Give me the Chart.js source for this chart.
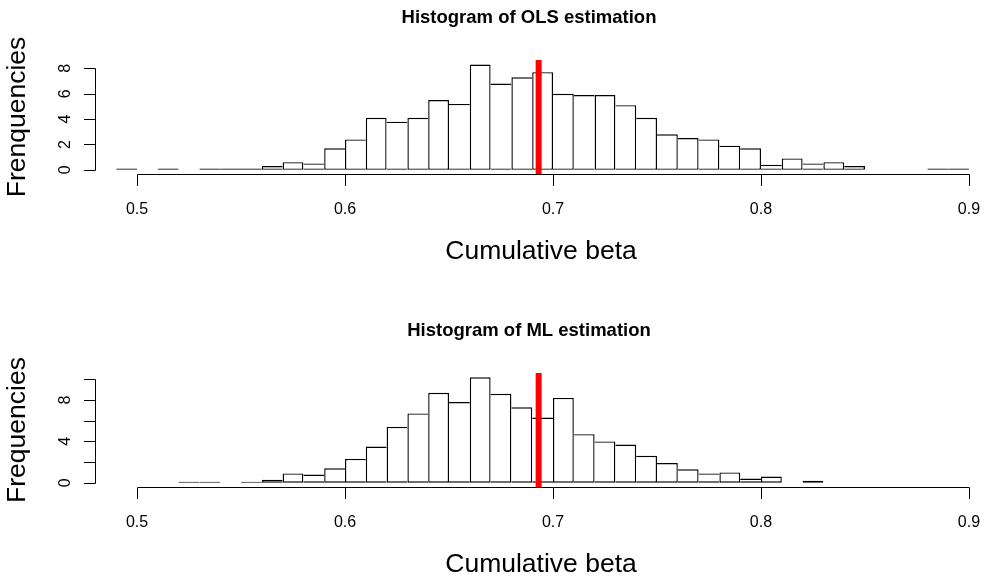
<!DOCTYPE html>
<html>
<head>
<meta charset="utf-8">
<script src="https://cdn.jsdelivr.net/npm/chart.js@4"></script>
<style>
html,body{margin:0;padding:0;background:#fff;overflow:hidden;width:989px;height:576px}
canvas{position:absolute;left:0}
#c1{top:0}
#c2{top:288px}
</style>
</head>
<body>
<canvas id="c1" width="989" height="288"></canvas>
<canvas id="c2" width="989" height="288"></canvas>
<script>
// ---- data ----
const olsBinStarts = [0.49,0.50,0.51,0.52,0.53,0.54,0.55,0.56,0.57,0.58,0.59,0.60,0.61,0.62,0.63,0.64,0.65,0.66,0.67,0.68,0.69,0.70,0.71,0.72,0.73,0.74,0.75,0.76,0.77,0.78,0.79,0.80,0.81,0.82,0.83,0.84,0.85,0.86,0.87,0.88,0.89];
const olsDensity   = [0.1,0,0.1,0,0.1,0.1,0.1,0.3,0.6,0.5,1.7,2.4,4.1,3.8,4.1,5.5,5.2,8.3,6.8,7.3,7.7,6.0,5.9,5.9,5.1,4.1,2.8,2.5,2.4,1.9,1.7,0.4,0.9,0.5,0.6,0.3,0,0,0,0.1,0.1];
const mlBinStarts  = [0.52,0.53,0.54,0.55,0.56,0.57,0.58,0.59,0.60,0.61,0.62,0.63,0.64,0.65,0.66,0.67,0.68,0.69,0.70,0.71,0.72,0.73,0.74,0.75,0.76,0.77,0.78,0.79,0.80,0.81,0.82];
const mlDensity    = [0.1,0.1,0,0.1,0.3,0.9,0.8,1.4,2.3,3.5,5.4,6.7,8.7,7.8,10.2,8.6,7.3,6.3,8.2,4.7,4.0,3.7,2.6,1.9,1.3,0.9,1.0,0.4,0.6,0,0.2];
const binWidth = 0.01;
const refValue = 0.6931;
const xTicks = [0.5,0.6,0.7,0.8,0.9];
const xTickLabels = ['0.5','0.6','0.7','0.8','0.9'];
const olsYTicks = [0,2,4,6,8];
const olsYTickLabels = ['0','2','4','6','8'];
const mlYTicks = [0,2,4,6,8,10];
const mlYTickLabels = ['0','','4','','8',''];
const olsTitle = 'Histogram of OLS estimation';
const mlTitle = 'Histogram of ML estimation';
const xTitle = 'Cumulative beta';
const olsYTitle = 'Frenquencies';
const mlYTitle = 'Frequencies';

const FONT = '"Liberation Sans", Arial, Helvetica, sans-serif';
const EDGE = 1.4;

const rAxes = {
  id: 'rAxes',
  afterDraw(chart, args, o) {
    const ctx = chart.ctx, a = chart.chartArea, xs = chart.scales.x, ys = chart.scales.y;
    ctx.save();
    ctx.strokeStyle = '#000';
    ctx.fillStyle = '#000';
    ctx.lineWidth = 1;
    // x axis
    const yb = Math.round(a.bottom) + 0.5;
    ctx.beginPath();
    ctx.moveTo(Math.round(xs.getPixelForValue(xTicks[0])) + 0.5, yb);
    ctx.lineTo(Math.round(xs.getPixelForValue(xTicks[xTicks.length - 1])) + 0.5, yb);
    xTicks.forEach(v => {
      const p = Math.round(xs.getPixelForValue(v)) + 0.5;
      ctx.moveTo(p, yb); ctx.lineTo(p, yb + 11.5);
    });
    // y axis
    const xl = Math.round(a.left) + 0.5;
    const yt = o.yTicks;
    ctx.moveTo(xl, Math.round(ys.getPixelForValue(yt[0])) + 0.5);
    ctx.lineTo(xl, Math.round(ys.getPixelForValue(yt[yt.length - 1])) + 0.5);
    yt.forEach(v => {
      const p = Math.round(ys.getPixelForValue(v)) + 0.5;
      ctx.moveTo(xl, p); ctx.lineTo(xl - 11.5, p);
    });
    ctx.stroke();
    // x tick labels
    ctx.font = '16px ' + FONT;
    ctx.textAlign = 'center';
    ctx.textBaseline = 'alphabetic';
    xTicks.forEach((v, i) => {
      ctx.fillText(xTickLabels[i], xs.getPixelForValue(v), a.bottom + 39.5);
    });
    // y tick labels (rotated)
    yt.forEach((v, i) => {
      if (!o.yTickLabels[i]) return;
      ctx.save();
      ctx.translate(a.left - 25, ys.getPixelForValue(v));
      ctx.rotate(-Math.PI / 2);
      ctx.fillText(o.yTickLabels[i], 0, 0);
      ctx.restore();
    });
    // axis titles
    ctx.font = '26.5px ' + FONT;
    ctx.fillText(xTitle, 541, a.bottom + 84.5);
    ctx.save();
    ctx.translate(25, (a.top + a.bottom) / 2);
    ctx.rotate(-Math.PI / 2);
    ctx.fillText(o.yTitle, 0, 0);
    ctx.restore();
    // main title
    ctx.font = 'bold 18.5px ' + FONT;
    ctx.fillText(o.title, 529, a.top - 37);
    ctx.restore();
  }
};

function makeChart(id, binStarts, density, yMin, yMax, yTicks, yTickLabels, title, yTitle, padding) {
  const bars = binStarts.map((s, i) => ({ x: s + binWidth / 2, y: density[i] }));
  // shared bin edges are drawn once, by the taller neighbour
  const edgeWidths = (c) => {
    const i = c.dataIndex;
    const cur = density[i];
    const prev = i > 0 ? density[i - 1] : 0;
    const next = i < density.length - 1 ? density[i + 1] : 0;
    return { top: EDGE, bottom: EDGE, left: prev <= cur ? EDGE : 0, right: next < cur ? EDGE : 0 };
  };
  return new Chart(document.getElementById(id), {
    type: 'bar',
    data: {
      datasets: [
        {
          type: 'line',
          order: 0,
          data: [{ x: refValue, y: yMin }, { x: refValue, y: yMax }],
          borderColor: '#ff0000',
          borderWidth: 6,
          borderCapStyle: 'butt',
          pointRadius: 0,
          fill: false
        },
        {
          type: 'bar',
          order: 1,
          data: bars,
          backgroundColor: '#ffffff',
          borderColor: '#000000',
          borderWidth: edgeWidths,
          borderSkipped: false,
          inflateAmount: 0,
          barPercentage: 1,
          categoryPercentage: 1
        }
      ]
    },
    options: {
      responsive: false,
      animation: false,
      devicePixelRatio: 1,
      layout: { padding: padding },
      plugins: {
        legend: { display: false },
        tooltip: { enabled: false },
        rAxes: { yTicks, yTickLabels, title, yTitle }
      },
      scales: {
        x: { type: 'linear', display: false, min: 0.4798, max: 0.9077, offset: false, ticks: { stepSize: 0.1 } },
        y: { type: 'linear', display: false, min: yMin, max: yMax }
      }
    },
    plugins: [rAxes]
  });
}

makeChart('c1', olsBinStarts, olsDensity, -0.33, 8.66, olsYTicks, olsYTickLabels, olsTitle, olsYTitle,
  { left: 95, right: 4, top: 60, bottom: 114 });
makeChart('c2', mlBinStarts, mlDensity, -0.41, 10.61, mlYTicks, mlYTickLabels, mlTitle, mlYTitle,
  { left: 95, right: 4, top: 85, bottom: 89 });
</script>
</body>
</html>
